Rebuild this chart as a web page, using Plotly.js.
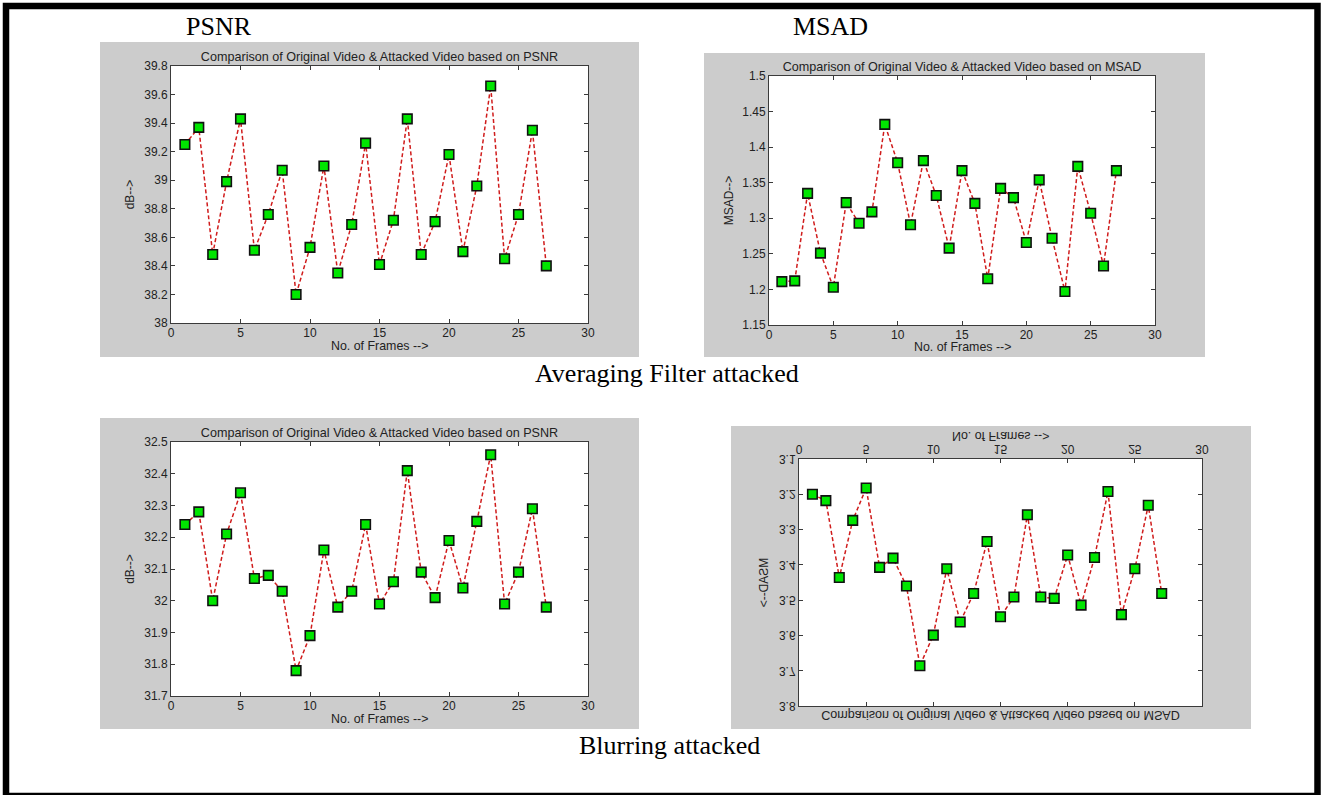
<!DOCTYPE html>
<html><head><meta charset="utf-8">
<script src="https://cdn.plot.ly/plotly-3.0.1.min.js"></script>
<style>
html,body{margin:0;padding:0;background:#fff;}
#wrap{position:relative;width:1322px;height:795px;overflow:hidden;background:#fff;}
.panel{position:absolute;}
</style></head><body>
<div id="wrap">
<div id="bg" class="panel" style="left:0;top:0;width:1322px;height:795px;"></div>
<div id="p1" class="panel" style="left:100px;top:42px;"></div>
<div id="p2" class="panel" style="left:704px;top:53px;"></div>
<div id="p3" class="panel" style="left:100px;top:418px;"></div>
<div id="p4" class="panel" style="left:731px;top:426px;transform:scaleY(-1);"></div>
</div>
<script>
// ---- data ----
const frames = [1,2,3,4,5,6,7,8,9,10,11,12,13,14,15,16,17,18,19,20,21,22,23,24,25,26,27];
const psnrAvg = [39.25,39.37,38.48,38.99,39.43,38.51,38.76,39.07,38.20,38.53,39.10,38.35,38.69,39.26,38.41,38.72,39.43,38.48,38.71,39.18,38.50,38.96,39.66,38.45,38.76,39.35,38.40];
const msadAvg = [1.211,1.212,1.335,1.251,1.203,1.322,1.293,1.309,1.432,1.378,1.291,1.381,1.332,1.258,1.367,1.321,1.215,1.342,1.329,1.266,1.354,1.272,1.197,1.373,1.307,1.233,1.367];
const psnrBlur = [32.24,32.28,32.00,32.21,32.34,32.07,32.08,32.03,31.78,31.89,32.16,31.98,32.03,32.24,31.99,32.06,32.41,32.09,32.01,32.19,32.04,32.25,32.46,31.99,32.09,32.29,31.98];
const msadBlur = [3.200,3.218,3.436,3.274,3.182,3.407,3.381,3.460,3.686,3.599,3.411,3.562,3.481,3.334,3.547,3.491,3.258,3.491,3.495,3.372,3.514,3.379,3.192,3.541,3.411,3.231,3.481];

const xTicks = [0,5,10,15,20,25,30];
const psnrAvgTicks = [38,38.2,38.4,38.6,38.8,39,39.2,39.4,39.6,39.8];
const msadAvgTicks = [1.15,1.2,1.25,1.3,1.35,1.4,1.45,1.5];
const psnrBlurTicks = [31.7,31.8,31.9,32,32.1,32.2,32.3,32.4,32.5];
const msadBlurTicks = [3.1,3.2,3.3,3.4,3.5,3.6,3.7,3.8];

const plotTitlePSNR = 'Comparison of Original Video & Attacked Video based on PSNR';
const plotTitleMSAD = 'Comparison of Original Video & Attacked Video based on MSAD';
const xLabel = 'No. of Frames -->';
const headings = ['PSNR','MSAD','Averaging Filter attacked','Blurring attacked'];

// ---- drawing ----
const FONT = 'Liberation Sans, Arial, sans-serif';
const SERIF = 'Liberation Serif, Times New Roman, serif';
const cfg = {staticPlot:true, displayModeBar:false};

function drawPanel(id, w, h, m, yvals, yticks, ytitle, title, ystand, xlabDist){
  const trace = {x: frames, y: yvals, type:'scatter', mode:'lines+markers',
    line:{color:'#d01c1c', width:1.5, dash:'4px,2.5px'},
    marker:{symbol:'square', size:9.5, color:'#00e600', line:{color:'#111', width:1.6}},
    cliponaxis:false, hoverinfo:'skip'};
  const ax = {showline:true, linecolor:'#3a3a3a', linewidth:1, mirror:'ticks', ticks:'inside',
    ticklen:4, tickcolor:'#3a3a3a', showgrid:false, zeroline:false, automargin:false,
    tickfont:{family:FONT, size:12, color:'#222'}};
  const layout = {
    width:w, height:h, margin:m, paper_bgcolor:'#cccccc', plot_bgcolor:'#ffffff', showlegend:false,
    font:{family:FONT, size:12, color:'#222'},
    title:{text:title, font:{family:FONT, size:12.6, color:'#222'}, x:0.5, xref:'paper', xanchor:'center',
      y:1, yref:'paper', yanchor:'bottom', pad:{b:5}},
    xaxis:Object.assign({}, ax, {range:[0,30], tickvals:xTicks, ticktext:xTicks.map(String), ticklabelstandoff:-1}),
    yaxis:Object.assign({}, ax, {range:[yticks[0], yticks[yticks.length-1]], tickvals:yticks,
      ticktext:yticks.map(String),
      title:{text:ytitle, standoff:ystand, font:{family:FONT, size:12, color:'#222'}}}),
    annotations:[{text:xLabel, xref:'paper', yref:'paper', x:0.5, y:0, xanchor:'center', yanchor:'middle',
      yshift:-xlabDist, showarrow:false, font:{family:FONT, size:12.4, color:'#222'}}]
  };
  Plotly.newPlot(id, [trace], layout, cfg);
}

drawPanel('p1', 539, 315, {l:71, r:51, t:24, b:34}, psnrAvg, psnrAvgTicks, 'dB-->', plotTitlePSNR, 7, 23);
drawPanel('p2', 501, 304, {l:65, r:50, t:23, b:32}, msadAvg, msadAvgTicks, 'MSAD-->', plotTitleMSAD, 6, 22);
drawPanel('p3', 539, 311, {l:71, r:51, t:24, b:33}, psnrBlur, psnrBlurTicks, 'dB-->', plotTitlePSNR, 7, 23);
drawPanel('p4', 520, 303, {l:68, r:49, t:23, b:33}, msadBlur, msadBlurTicks, 'MSAD-->', plotTitleMSAD, 7, 23);

// background: headings and frame
const W = 1322, H = 795;
function ann(text, cx, cy){
  return {text:text, xref:'paper', yref:'paper', x:cx/W, y:1-cy/H, xanchor:'center', yanchor:'middle',
    showarrow:false, font:{family:SERIF, size:26, color:'#000'}};
}
Plotly.newPlot('bg', [], {
  width:W, height:H, margin:{l:0,r:0,t:0,b:0}, paper_bgcolor:'#ffffff', plot_bgcolor:'#ffffff',
  xaxis:{visible:false, range:[0,1]}, yaxis:{visible:false, range:[0,1]},
  annotations:[ann(headings[0], 219, 27), ann(headings[1], 830, 27), ann(headings[2], 667, 373), ann(headings[3], 670, 745)],
  shapes:[{type:'rect', xref:'paper', yref:'paper', x0:6/W, x1:1317.5/W, y0:1-6/H, y1:1-796/H,
    line:{color:'#000', width:6.5}, fillcolor:'rgba(0,0,0,0)'}]
}, cfg);
</script>
</body></html>
